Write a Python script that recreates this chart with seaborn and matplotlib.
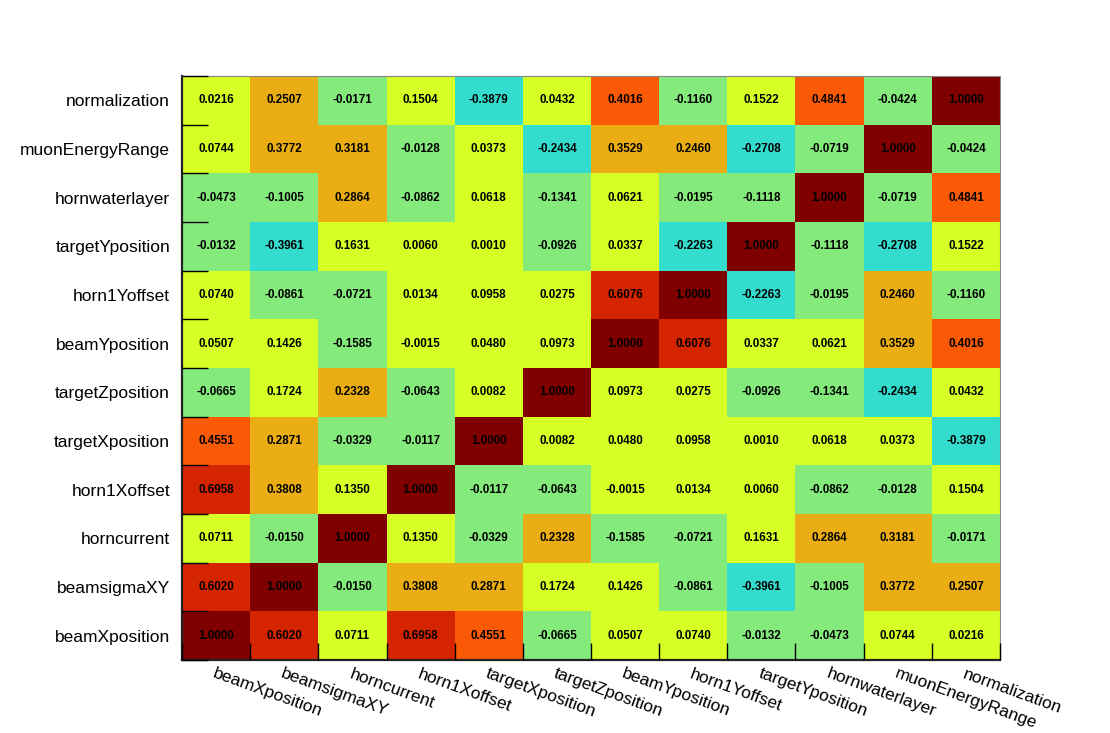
import numpy as np
import pandas as pd
import matplotlib
matplotlib.use("Agg")
import matplotlib.pyplot as plt
import seaborn as sns
from matplotlib.colors import ListedColormap, BoundaryNorm

# column order (left to right)
params = ["beamXposition", "beamsigmaXY", "horncurrent", "horn1Xoffset",
          "targetXposition", "targetZposition", "beamYposition", "horn1Yoffset",
          "targetYposition", "hornwaterlayer", "muonEnergyRange", "normalization"]

# rows listed from top to bottom
row_labels = ["normalization", "muonEnergyRange", "hornwaterlayer", "targetYposition",
              "horn1Yoffset", "beamYposition", "targetZposition", "targetXposition",
              "horn1Xoffset", "horncurrent", "beamsigmaXY", "beamXposition"]

r_normalization   = [0.0216, 0.2507, -0.0171, 0.1504, -0.3879, 0.0432, 0.4016, -0.1160, 0.1522, 0.4841, -0.0424, 1.0000]
r_muonEnergyRange = [0.0744, 0.3772, 0.3181, -0.0128, 0.0373, -0.2434, 0.3529, 0.2460, -0.2708, -0.0719, 1.0000, -0.0424]
r_hornwaterlayer  = [-0.0473, -0.1005, 0.2864, -0.0862, 0.0618, -0.1341, 0.0621, -0.0195, -0.1118, 1.0000, -0.0719, 0.4841]
r_targetYposition = [-0.0132, -0.3961, 0.1631, 0.0060, 0.0010, -0.0926, 0.0337, -0.2263, 1.0000, -0.1118, -0.2708, 0.1522]
r_horn1Yoffset    = [0.0740, -0.0861, -0.0721, 0.0134, 0.0958, 0.0275, 0.6076, 1.0000, -0.2263, -0.0195, 0.2460, -0.1160]
r_beamYposition   = [0.0507, 0.1426, -0.1585, -0.0015, 0.0480, 0.0973, 1.0000, 0.6076, 0.0337, 0.0621, 0.3529, 0.4016]
r_targetZposition = [-0.0665, 0.1724, 0.2328, -0.0643, 0.0082, 1.0000, 0.0973, 0.0275, -0.0926, -0.1341, -0.2434, 0.0432]
r_targetXposition = [0.4551, 0.2871, -0.0329, -0.0117, 1.0000, 0.0082, 0.0480, 0.0958, 0.0010, 0.0618, 0.0373, -0.3879]
r_horn1Xoffset    = [0.6958, 0.3808, 0.1350, 1.0000, -0.0117, -0.0643, -0.0015, 0.0134, 0.0060, -0.0862, -0.0128, 0.1504]
r_horncurrent     = [0.0711, -0.0150, 1.0000, 0.1350, -0.0329, 0.2328, -0.1585, -0.0721, 0.1631, 0.2864, 0.3181, -0.0171]
r_beamsigmaXY     = [0.6020, 1.0000, -0.0150, 0.3808, 0.2871, 0.1724, 0.1426, -0.0861, -0.3961, -0.1005, 0.3772, 0.2507]
r_beamXposition   = [1.0000, 0.6020, 0.0711, 0.6958, 0.4551, -0.0665, 0.0507, 0.0740, -0.0132, -0.0473, 0.0744, 0.0216]

rows = [r_normalization, r_muonEnergyRange, r_hornwaterlayer, r_targetYposition,
        r_horn1Yoffset, r_beamYposition, r_targetZposition, r_targetXposition,
        r_horn1Xoffset, r_horncurrent, r_beamsigmaXY, r_beamXposition]

df = pd.DataFrame(rows, index=row_labels, columns=params)

colors = ["#33dccd", "#84ea7c", "#d6ff26", "#eaae14", "#fa5a05", "#d42400", "#800000"]
bounds = [-0.4, -0.2, -0.005, 0.2, 0.4, 0.6, 0.8, 1.01]
cmap = ListedColormap(colors)
norm = BoundaryNorm(bounds, cmap.N)

sns.set_style("white")
plt.rcParams["font.family"] = ["Liberation Sans", "DejaVu Sans"]
plt.rcParams["axes.axisbelow"] = False
plt.rcParams["xtick.color"] = "black"
plt.rcParams["ytick.color"] = "black"
plt.rcParams["xtick.labelcolor"] = "black"
plt.rcParams["ytick.labelcolor"] = "black"

fig = plt.figure(figsize=(11.10, 7.33), dpi=100)
ax = fig.add_axes([182/1110, 73/733, 818/1110, 584/733])

sns.heatmap(df, ax=ax, cmap=cmap, norm=norm, annot=True, fmt=".4f", cbar=False,
            linewidths=0,
            annot_kws={"color": "black", "fontsize": 8.4, "fontweight": "bold"})
ax.set_axisbelow(False)

n = len(params)
# major ticks at cell boundaries: marks only, drawn inside
ax.set_xticks(np.arange(n + 1))
ax.set_xticklabels([""] * (n + 1))
ax.set_yticks(np.arange(n + 1))
ax.set_yticklabels([""] * (n + 1))
ax.tick_params(axis="x", which="major", direction="in", length=12, width=1.0,
               color="black", bottom=True, top=False)
ax.tick_params(axis="y", which="major", direction="in", length=19, width=1.0,
               color="black", left=True, right=False)

# minor ticks at centres: labels only
ax.set_yticks(np.arange(n) + 0.5, minor=True)
ax.set_yticklabels(row_labels, minor=True, rotation=0, fontsize=12.5, color="black")
ax.tick_params(axis="y", which="minor", length=0, pad=8.6, left=True)
ax.tick_params(axis="x", which="minor", length=0)

for i, lab in enumerate(params):
    ax.annotate(lab, xy=(i + 0.5, 0), xycoords=("data", "axes fraction"),
                xytext=(0, -4.5), textcoords="offset points",
                rotation=-20, rotation_mode="anchor", ha="left", va="top",
                fontsize=12.5, color="black")

for side in ["left", "bottom"]:
    ax.spines[side].set_visible(True)
    ax.spines[side].set_color("#222222")
    ax.spines[side].set_linewidth(1.6)
for side in ["top", "right"]:
    ax.spines[side].set_visible(True)
    ax.spines[side].set_color("#888888")
    ax.spines[side].set_linewidth(0.8)

ax.set_xlabel("")
ax.set_ylabel("")

fig.savefig("out.png", dpi=100)
